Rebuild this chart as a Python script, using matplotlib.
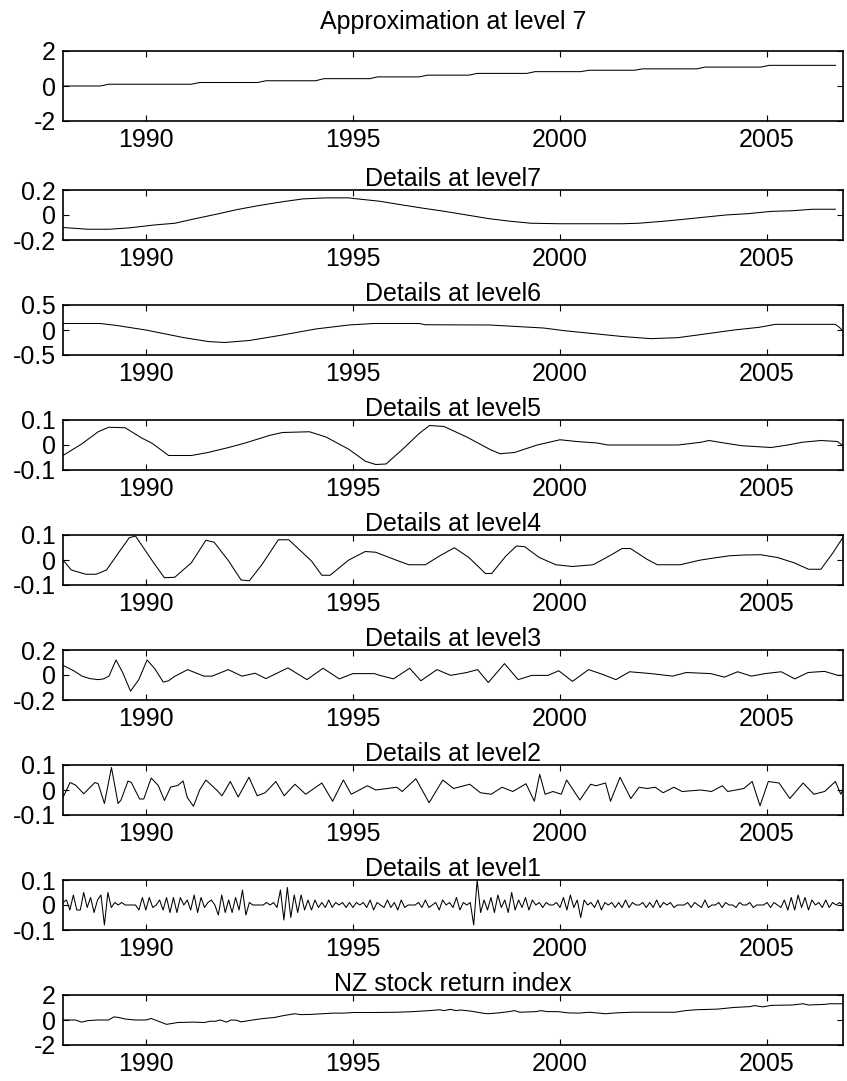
import matplotlib
matplotlib.use('Agg')
import matplotlib.pyplot as plt
import numpy as np

plt.rcParams['font.family'] = ['Liberation Sans', 'DejaVu Sans']

# ---------------- data ----------------
titles = ['Approximation at level 7', 'Details at level7', 'Details at level6',
          'Details at level5', 'Details at level4', 'Details at level3',
          'Details at level2', 'Details at level1', 'NZ stock return index']
year_ticks = [1990, 1995, 2000, 2005]
year_tick_labels = ['1990', '1995', '2000', '2005']
start_year = 1988.0
n_months = 227

y_limits = [(-2, 2), (-0.2, 0.2), (-0.5, 0.5), (-0.1, 0.1), (-0.1, 0.1),
            (-0.2, 0.2), (-0.1, 0.1), (-0.1, 0.1), (-2, 2)]
y_tick_labels = [['-2', '0', '2'], ['-0.2', '0', '0.2'], ['-0.5', '0', '0.5'],
                 ['-0.1', '0', '0.1'], ['-0.1', '0', '0.1'], ['-0.2', '0', '0.2'],
                 ['-0.1', '0', '0.1'], ['-0.1', '0', '0.1'], ['-2', '0', '2']]

approx7 = [(1988.0, 0.0), (1988.9, 0.0), (1989.1, 0.1), (1991.1, 0.1), (1991.3, 0.2),
           (1992.7, 0.2), (1992.9, 0.3), (1994.1, 0.3), (1994.3, 0.42), (1995.4, 0.42),
           (1995.6, 0.52), (1996.6, 0.52), (1996.8, 0.62), (1997.8, 0.62), (1998.0, 0.72),
           (1999.2, 0.72), (1999.4, 0.82), (2000.5, 0.82), (2000.7, 0.9), (2001.8, 0.9),
           (2002.0, 0.98), (2003.3, 0.98), (2003.5, 1.08), (2004.85, 1.08), (2005.05, 1.18),
           (2006.65, 1.18)]

detail7 = [(1988.0, -0.10), (1988.6, -0.114), (1989.1, -0.114), (1989.6, -0.103),
           (1990.2, -0.08), (1990.7, -0.066), (1991.2, -0.029), (1991.7, 0.006),
           (1992.2, 0.043), (1992.7, 0.074), (1993.3, 0.106), (1993.8, 0.129),
           (1994.35, 0.137), (1994.9, 0.137), (1995.1, 0.129), (1995.65, 0.11),
           (1996.2, 0.08), (1996.7, 0.054), (1997.2, 0.03), (1997.75, 0.0),
           (1998.3, -0.03), (1998.8, -0.05), (1999.3, -0.066), (2000.0, -0.07),
           (2000.6, -0.07), (2001.5, -0.07), (2001.9, -0.066), (2002.5, -0.05),
           (2003.0, -0.034), (2003.5, -0.017), (2004.0, 0.0), (2004.55, 0.011),
           (2005.1, 0.029), (2005.6, 0.034), (2006.1, 0.046), (2006.65, 0.046)]

detail6 = [(1988.0, 0.13), (1988.9, 0.13), (1989.3, 0.09), (1990.0, 0.0), (1990.9, -0.15),
           (1991.5, -0.23), (1991.9, -0.25), (1992.5, -0.21), (1993.3, -0.10),
           (1994.1, 0.02), (1994.9, 0.10), (1995.5, 0.13), (1996.6, 0.13),
           (1996.75, 0.105), (1998.3, 0.10), (1999.6, 0.04), (2000.1, -0.013),
           (2000.9, -0.08), (2001.5, -0.13), (2002.2, -0.173), (2002.85, -0.153),
           (2003.5, -0.08), (2004.2, 0.0), (2004.8, 0.053), (2005.2, 0.113),
           (2006.65, 0.113), (2006.75, 0.05), (2006.83, -0.02)]

detail5 = [(1988.0, -0.042), (1988.45, 0.004), (1988.85, 0.053), (1989.1, 0.071),
           (1989.5, 0.069), (1989.9, 0.028), (1990.15, 0.007), (1990.55, -0.042),
           (1991.1, -0.042), (1991.5, -0.03), (1992.0, -0.01), (1992.4, 0.008),
           (1993.0, 0.039), (1993.3, 0.05), (1993.95, 0.053), (1994.35, 0.032),
           (1994.9, -0.017), (1995.3, -0.065), (1995.55, -0.078), (1995.8, -0.076),
           (1996.2, -0.017), (1996.6, 0.046), (1996.85, 0.078), (1997.2, 0.074),
           (1997.75, 0.032), (1998.3, -0.017), (1998.55, -0.035), (1998.9, -0.03),
           (1999.45, 0.0), (2000.0, 0.021), (2000.4, 0.014), (2000.9, 0.008),
           (2001.15, 0.0), (2002.85, 0.0), (2003.4, 0.011), (2003.6, 0.018),
           (2004.0, 0.007), (2004.4, -0.003), (2004.8, -0.007), (2005.1, -0.01),
           (2005.5, 0.0), (2005.85, 0.011), (2006.3, 0.018), (2006.7, 0.014),
           (2006.83, -0.003)]

detail4 = [(1988.0, 0.0), (1988.2, -0.04), (1988.55, -0.057), (1988.8, -0.057),
           (1989.05, -0.04), (1989.35, 0.031), (1989.6, 0.089), (1989.75, 0.096),
           (1990.2, -0.014), (1990.45, -0.071), (1990.7, -0.069), (1991.1, -0.011),
           (1991.45, 0.079), (1991.65, 0.071), (1992.0, -0.004), (1992.3, -0.08),
           (1992.5, -0.083), (1992.8, -0.019), (1993.2, 0.081), (1993.45, 0.081),
           (1994.0, -0.004), (1994.25, -0.061), (1994.45, -0.061), (1994.9, 0.0),
           (1995.3, 0.034), (1995.55, 0.031), (1996.1, -0.004), (1996.35, -0.019),
           (1996.75, -0.019), (1997.1, 0.017), (1997.45, 0.049), (1997.8, 0.01),
           (1998.2, -0.054), (1998.35, -0.054), (1998.7, 0.017), (1998.95, 0.056),
           (1999.15, 0.053), (1999.5, 0.01), (1999.9, -0.019), (2000.3, -0.026),
           (2000.8, -0.019), (2001.2, 0.017), (2001.5, 0.046), (2001.7, 0.046),
           (2002.1, 0.003), (2002.35, -0.019), (2002.9, -0.019), (2003.4, 0.0),
           (2003.8, 0.01), (2004.1, 0.017), (2004.45, 0.02), (2004.85, 0.021),
           (2005.25, 0.01), (2005.65, -0.011), (2006.0, -0.037), (2006.3, -0.037),
           (2006.6, 0.031), (2006.83, 0.09)]

detail3 = [(1988.0, 0.077), (1988.26, 0.034), (1988.46, -0.009), (1988.65, -0.029),
           (1988.85, -0.037), (1988.98, -0.031), (1989.11, -0.009), (1989.28, 0.12),
           (1989.44, 0.02), (1989.63, -0.129), (1989.83, -0.037), (1990.03, 0.12),
           (1990.22, 0.049), (1990.42, -0.057), (1990.55, -0.046), (1990.68, -0.014),
           (1991.01, 0.043), (1991.4, -0.009), (1991.6, -0.009), (1991.99, 0.043),
           (1992.32, -0.009), (1992.64, 0.014), (1992.9, -0.029), (1993.43, 0.057),
           (1993.89, -0.037), (1994.28, 0.054), (1994.67, -0.031), (1995.0, 0.011),
           (1995.52, 0.011), (1995.65, -0.003), (1995.98, -0.031), (1996.37, 0.054),
           (1996.64, -0.046), (1997.03, 0.043), (1997.36, -0.003), (1997.75, 0.02),
           (1998.01, 0.043), (1998.27, -0.06), (1998.66, 0.091), (1998.99, -0.037),
           (1999.32, -0.003), (1999.71, -0.003), (1999.97, 0.034), (2000.3, -0.051),
           (2000.69, 0.043), (2001.02, 0.006), (2001.35, -0.037), (2001.68, 0.026),
           (2002.2, 0.011), (2002.72, -0.009), (2003.05, 0.02), (2003.64, 0.011),
           (2003.97, -0.017), (2004.29, 0.026), (2004.62, -0.009), (2004.95, 0.011),
           (2005.34, 0.026), (2005.67, -0.031), (2005.99, 0.02), (2006.39, 0.029),
           (2006.71, -0.003), (2006.83, -0.003)]

detail2 = [(1988.0, -0.03), (1988.17, 0.03), (1988.3, 0.02), (1988.5, -0.015),
           (1988.77, 0.03), (1988.85, 0.025), (1989.0, -0.054), (1989.17, 0.09),
           (1989.33, -0.054), (1989.4, -0.04), (1989.57, 0.036), (1989.65, 0.03),
           (1989.85, -0.036), (1989.95, -0.036), (1990.13, 0.048), (1990.3, 0.018),
           (1990.45, -0.042), (1990.6, 0.012), (1990.77, 0.018), (1990.9, 0.036),
           (1991.0, -0.03), (1991.15, -0.065), (1991.3, 0.0), (1991.45, 0.04),
           (1991.71, 0.0), (1991.84, -0.023), (1992.04, 0.034), (1992.23, -0.028),
           (1992.49, 0.051), (1992.69, -0.023), (1992.88, -0.011), (1993.14, 0.034),
           (1993.34, -0.023), (1993.6, 0.023), (1993.86, -0.017), (1994.25, 0.028),
           (1994.51, -0.045), (1994.77, 0.04), (1994.96, -0.017), (1995.35, 0.017),
           (1995.55, 0.0), (1996.06, 0.011), (1996.19, -0.006), (1996.52, 0.045),
           (1996.84, -0.051), (1997.17, 0.04), (1997.43, 0.006), (1997.82, 0.023),
           (1998.08, -0.011), (1998.34, -0.017), (1998.6, 0.011), (1998.86, -0.006),
           (1999.18, 0.025), (1999.38, -0.045), (1999.51, 0.063), (1999.64, -0.017),
           (1999.83, -0.006), (2000.03, -0.017), (2000.16, 0.04), (2000.48, -0.04),
           (2000.74, 0.023), (2000.87, 0.017), (2001.1, 0.028), (2001.22, -0.045),
           (2001.45, 0.051), (2001.71, -0.034), (2001.91, 0.011), (2002.1, 0.006),
           (2002.3, 0.011), (2002.49, -0.011), (2002.75, 0.011), (2002.95, -0.006),
           (2003.4, 0.0), (2003.66, -0.006), (2003.92, 0.017), (2004.05, -0.006),
           (2004.44, 0.006), (2004.64, 0.034), (2004.83, -0.063), (2005.03, 0.034),
           (2005.29, 0.028), (2005.55, -0.034), (2005.87, 0.028), (2006.13, -0.017),
           (2006.39, -0.006), (2006.65, 0.034), (2006.78, -0.017), (2006.83, 0.0)]

# monthly values, Jan 1988 .. Nov 2006
detail1 = [
    0.01, 0.02, -0.02, 0.04, -0.02, -0.02, 0.05, -0.01, 0.03, -0.03, 0.02, 0.04,   # 1988
    -0.08, 0.05, -0.01, 0.01, 0.00, 0.01, 0.00, 0.00, 0.00, 0.00, -0.02, 0.03,     # 1989
    -0.02, 0.03, -0.01, 0.00, 0.02, -0.02, 0.03, -0.03, 0.03, -0.03, 0.03, 0.00,   # 1990
    0.02, -0.02, 0.04, -0.03, 0.03, -0.01, 0.01, 0.02, 0.00, -0.04, 0.04, -0.03,   # 1991
    0.02, -0.03, 0.03, -0.02, 0.06, -0.04, 0.01, 0.00, 0.00, 0.00, 0.00, 0.01,     # 1992
    0.00, 0.01, -0.01, 0.06, -0.06, 0.07, -0.05, 0.04, -0.03, 0.04, -0.02, 0.02,   # 1993
    -0.02, 0.02, -0.01, 0.01, -0.01, 0.02, -0.01, 0.01, 0.00, 0.01, -0.01, 0.01,   # 1994
    -0.01, 0.01, 0.00, 0.01, -0.01, 0.02, -0.02, 0.01, 0.00, -0.01, 0.02, -0.01,   # 1995
    0.01, -0.02, 0.02, -0.01, 0.00, 0.00, 0.00, 0.01, -0.01, 0.02, -0.01, 0.00,    # 1996
    0.01, -0.02, 0.02, 0.00, 0.01, -0.01, 0.03, -0.02, 0.01, 0.00, 0.01, -0.08,    # 1997
    0.10, -0.03, 0.02, -0.02, 0.03, -0.03, 0.04, -0.01, 0.02, -0.03, 0.05, -0.02,  # 1998
    0.02, -0.01, 0.03, -0.02, 0.02, 0.00, 0.01, -0.01, 0.01, 0.00, 0.00, 0.01,     # 1999
    -0.01, 0.03, -0.02, 0.04, -0.01, 0.02, -0.05, 0.02, 0.00, 0.01, -0.01, 0.02,   # 2000
    -0.02, 0.01, 0.00, 0.01, -0.01, 0.01, -0.01, 0.02, -0.01, 0.01, 0.00, 0.00,    # 2001
    0.01, -0.01, 0.01, -0.01, 0.02, -0.01, 0.01, 0.00, 0.01, -0.01, 0.00, 0.00,    # 2002
    0.00, 0.01, -0.01, 0.01, 0.00, -0.01, 0.02, -0.01, 0.00, 0.00, 0.01, -0.01,    # 2003
    0.01, 0.00, 0.00, -0.01, 0.01, 0.00, 0.00, 0.01, -0.01, 0.00, 0.00, 0.00,      # 2004
    0.01, -0.01, 0.01, 0.00, -0.01, 0.02, -0.02, 0.03, -0.02, 0.04, -0.01, 0.03,   # 2005
    -0.02, 0.02, 0.00, 0.01, -0.01, 0.02, -0.01, 0.01, 0.00, 0.01, 0.00,           # 2006
]

nz_index = [(1988.0, 0.0), (1988.3, 0.0), (1988.45, -0.17), (1988.6, -0.05),
            (1988.84, 0.0), (1989.1, 0.0), (1989.23, 0.25), (1989.35, 0.2),
            (1989.5, 0.08), (1989.75, 0.0), (1990.0, 0.0), (1990.13, 0.12),
            (1990.32, -0.12), (1990.5, -0.35), (1990.77, -0.2), (1991.16, -0.17),
            (1991.42, -0.2), (1991.55, -0.1), (1991.68, -0.1), (1991.8, 0.0),
            (1991.94, -0.17), (1992.06, 0.0), (1992.19, -0.02), (1992.3, -0.15),
            (1992.58, 0.0), (1992.84, 0.12), (1993.1, 0.2), (1993.35, 0.37),
            (1993.6, 0.5), (1993.74, 0.43), (1994.0, 0.45), (1994.26, 0.5),
            (1994.52, 0.55), (1994.77, 0.55), (1995.03, 0.6), (1995.55, 0.6),
            (1996.06, 0.62), (1996.45, 0.67), (1996.84, 0.75), (1997.1, 0.82),
            (1997.2, 0.75), (1997.35, 0.85), (1997.5, 0.75), (1997.6, 0.8),
            (1997.87, 0.7), (1998.13, 0.55), (1998.26, 0.5), (1998.52, 0.57),
            (1998.77, 0.67), (1998.9, 0.75), (1999.03, 0.62), (1999.42, 0.67),
            (1999.55, 0.75), (1999.68, 0.67), (1999.94, 0.67), (2000.2, 0.57),
            (2000.45, 0.55), (2000.71, 0.62), (2001.1, 0.5), (2001.35, 0.57),
            (2001.74, 0.62), (2002.77, 0.62), (2003.03, 0.75), (2003.29, 0.82),
            (2003.8, 0.87), (2004.19, 1.0), (2004.58, 1.07), (2004.7, 1.15),
            (2004.9, 1.05), (2005.1, 1.17), (2005.61, 1.2), (2005.87, 1.3),
            (2006.0, 1.2), (2006.39, 1.25), (2006.52, 1.3), (2006.83, 1.3)]

# ---------------- figure ----------------
W, H = 847, 1081
fig = plt.figure(figsize=(W / 100, H / 100), dpi=100)

left_px, right_px = 63, 843
tops_px = [51] + [190 + 115 * k for k in range(8)]
heights_px = [70] + [50] * 8
title_pads = [16] + [3] * 8

month_times = start_year + np.arange(n_months) / 12.0
x_end = start_year + (n_months - 1) / 12.0

series = [approx7, detail7, detail6, detail5, detail4, detail3, detail2, None, nz_index]

for i in range(9):
    ax = fig.add_axes([left_px / W, 1 - (tops_px[i] + heights_px[i]) / H,
                       (right_px - left_px) / W, heights_px[i] / H])
    if series[i] is None:
        t, v = month_times, np.array(detail1)
    else:
        t, v = zip(*series[i])
    ax.plot(t, v, color='black', lw=0.75)
    lo, hi = y_limits[i]
    ax.set_xlim(start_year, x_end)
    ax.set_ylim(lo, hi)
    ax.set_xticks(year_ticks)
    ax.set_xticklabels(year_tick_labels)
    ax.set_yticks([lo, 0, hi])
    ax.set_yticklabels(y_tick_labels[i])
    ax.tick_params(direction='in', length=4, width=0.8, top=True, right=True,
                   labelsize=18, pad=5)
    ax.tick_params(axis='x', pad=5)
    for s in ax.spines.values():
        s.set_linewidth(1.2)
    ax.set_title(titles[i], fontsize=18, pad=title_pads[i])

fig.savefig('out.png', dpi=100)
